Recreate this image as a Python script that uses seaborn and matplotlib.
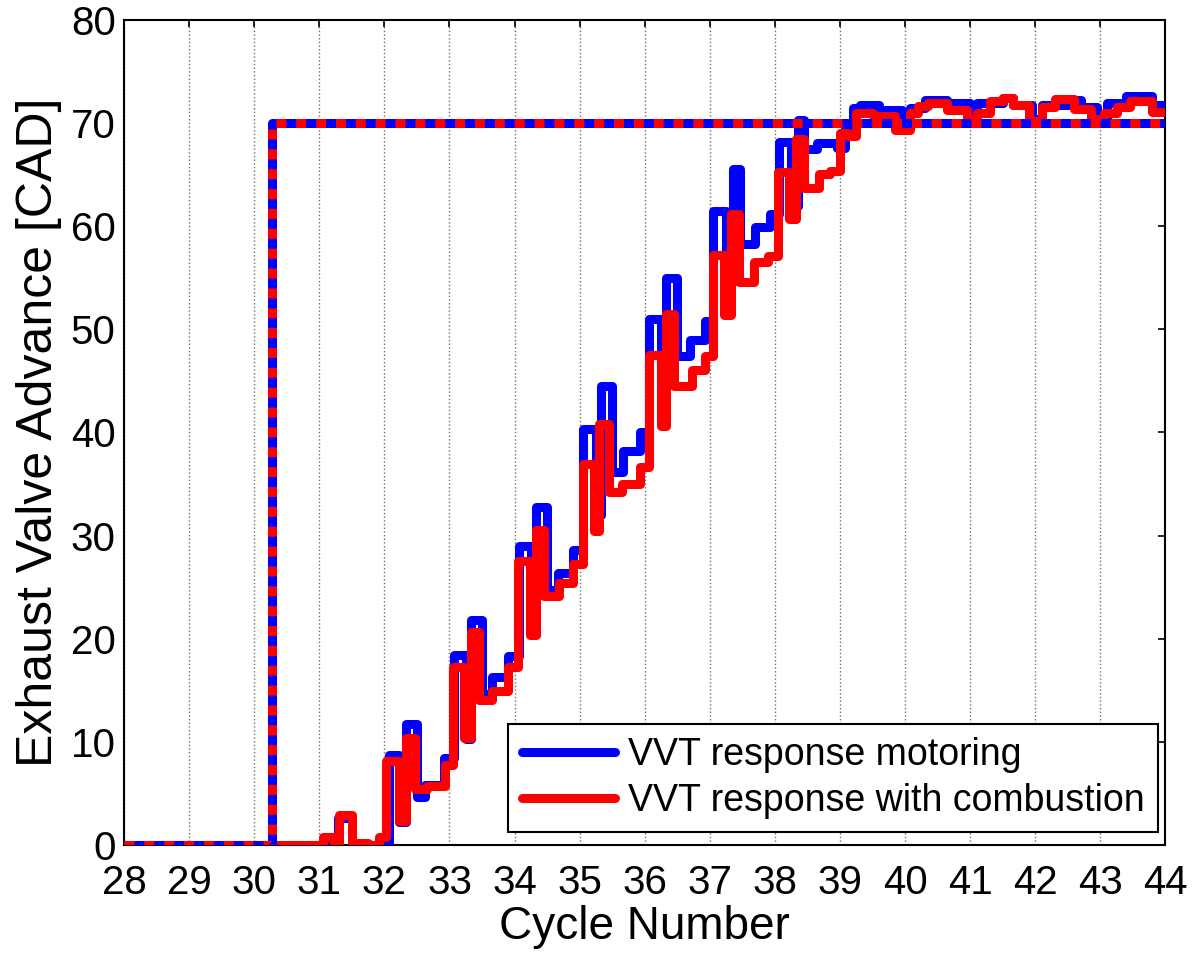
import matplotlib
matplotlib.use("Agg")
import matplotlib.pyplot as plt
import seaborn as sns
import pandas as pd
from matplotlib.lines import Line2D

# Commanded exhaust valve advance (step demand)
cmd_cycle = [28.0, 30.27, 44.0]
cmd_value = [0.0, 70.0, 70.0]

# VVT response, motoring (step breakpoints, held until next point)
mot_cycle = [28.0, 31.28, 31.5, 32.07, 32.22, 32.33, 32.5, 32.62, 32.92,
             33.07, 33.25, 33.33, 33.5, 33.66, 33.9,
             34.07, 34.25, 34.33, 34.5, 34.66, 34.9,
             35.05, 35.25, 35.33, 35.5, 35.66, 35.92,
             36.07, 36.25, 36.33, 36.5, 36.7, 36.92,
             37.05, 37.25, 37.35, 37.47, 37.7, 37.92,
             38.07, 38.25, 38.35, 38.45, 38.65, 38.95,
             39.07, 39.2, 39.3, 39.6, 39.95,
             40.08, 40.3, 40.65, 41.0, 41.1, 41.5, 41.65, 41.95,
             42.1, 42.5, 42.7, 42.95, 43.1, 43.4, 43.8, 44.0]
mot_value = [0.0, 2.6, 0.0, 8.7, 2.2, 11.7, 4.7, 5.8, 8.4,
             18.4, 10.3, 21.8, 14.6, 16.3, 18.3,
             29.0, 20.5, 32.8, 24.7, 26.4, 28.6,
             40.3, 32.0, 44.5, 36.2, 38.2, 40.0,
             51.0, 42.0, 55.0, 47.4, 49.0, 50.8,
             61.5, 54.6, 65.5, 58.3, 59.9, 61.2,
             68.2, 62.0, 70.3, 67.5, 68.1, 67.6,
             69.5, 71.5, 71.8, 71.3, 70.0,
             71.5, 72.2, 71.9, 70.4, 71.9, 72.4, 71.8, 70.4,
             71.8, 72.2, 71.6, 70.3, 71.9, 72.6, 71.8, 71.8]

# VVT response with combustion
cmb_cycle = [28.0, 31.05, 31.23, 31.3, 31.5, 31.75, 31.92, 32.03, 32.22, 32.33, 32.47, 32.65, 32.93,
             33.06, 33.23, 33.33, 33.45, 33.65, 33.9,
             34.06, 34.24, 34.33, 34.45, 34.68, 34.9,
             35.05, 35.22, 35.3, 35.45, 35.65, 35.92,
             36.07, 36.25, 36.33, 36.45, 36.72, 36.93,
             37.05, 37.22, 37.33, 37.45, 37.68, 37.9,
             38.05, 38.22, 38.32, 38.45, 38.68, 38.85,
             39.0, 39.12, 39.25, 39.5, 39.85,
             40.08, 40.2, 40.35, 40.65, 40.95, 41.1, 41.3, 41.5, 41.65, 41.9,
             42.1, 42.3, 42.6, 42.85, 43.05, 43.25, 43.45, 43.8, 44.0]
cmb_value = [0.0, 0.8, 0.0, 2.9, 0.2, 0.0, 0.8, 8.1, 2.3, 10.4, 5.4, 5.7, 7.8,
             17.3, 10.4, 20.7, 14.1, 14.9, 17.3,
             27.5, 20.4, 30.5, 24.1, 25.4, 27.2,
             36.9, 30.4, 40.8, 34.2, 35.0, 36.7,
             47.5, 40.6, 51.5, 44.5, 46.1, 47.4,
             57.2, 51.4, 61.2, 54.6, 56.5, 57.1,
             65.3, 60.7, 68.5, 63.7, 65.1, 65.4,
             69.0, 68.7, 71.0, 70.7, 69.3,
             71.0, 71.7, 71.9, 71.3, 70.4, 71.0, 72.1, 72.4, 71.8, 70.2,
             71.6, 72.3, 71.4, 70.4, 71.0, 71.6, 72.1, 71.1, 71.1]

x_ticks = list(range(28, 45))
y_ticks = list(range(0, 81, 10))

sns.set_style("white")
plt.rcParams["font.family"] = ["Liberation Sans", "DejaVu Sans"]
plt.rcParams["text.color"] = "black"
plt.rcParams["axes.labelcolor"] = "black"
plt.rcParams["xtick.color"] = "black"
plt.rcParams["ytick.color"] = "black"

fig = plt.figure(figsize=(12.04, 9.55), dpi=100)
ax = fig.add_axes([0.103, 0.1152, 0.865, 0.8639])

lw = 6.5
mot_df = pd.DataFrame({"cycle": mot_cycle, "value": mot_value})
cmb_df = pd.DataFrame({"cycle": cmb_cycle, "value": cmb_value})
cmd_df = pd.DataFrame({"cycle": cmd_cycle, "value": cmd_value})

sns.lineplot(data=mot_df, x="cycle", y="value", ax=ax, color="#0000ff",
             linewidth=lw, drawstyle="steps-post", estimator=None, zorder=3)
sns.lineplot(data=cmb_df, x="cycle", y="value", ax=ax, color="#ff0000",
             linewidth=lw, drawstyle="steps-post", estimator=None, zorder=4)
# demand: blue solid underneath a red dashed overlay
sns.lineplot(data=cmd_df, x="cycle", y="value", ax=ax, color="#0000ff",
             linewidth=lw, drawstyle="steps-post", estimator=None, zorder=5)
sns.lineplot(data=cmd_df, x="cycle", y="value", ax=ax, color="#ff0000",
             linewidth=lw, drawstyle="steps-post", estimator=None, zorder=6,
             dashes=False, linestyle=(0, (1.1, 1.1)))
for ln in ax.lines:
    ln.set_solid_capstyle("butt")
    ln.set_dash_capstyle("butt")

ax.set_xlim(28, 44)
ax.set_ylim(0, 80)
ax.set_xticks(x_ticks)
ax.set_yticks(y_ticks)
ax.tick_params(axis="both", direction="in", length=5, width=1.2, labelsize=29,
               top=True, right=True, colors="black")
ax.tick_params(axis="x", pad=14)
ax.tick_params(axis="y", pad=6)
ax.xaxis.grid(True, linestyle=":", color="#707070", linewidth=1.0)
ax.yaxis.grid(False)
for s in ax.spines.values():
    s.set_color("black")
    s.set_linewidth(1.5)

ax.set_xlabel("Cycle Number", fontsize=33, labelpad=2)
ax.set_ylabel("Exhaust Valve Advance [CAD]", fontsize=36, labelpad=6)

handles = [Line2D([], [], color="#0000ff", linewidth=lw),
           Line2D([], [], color="#ff0000", linewidth=lw)]
leg = ax.legend(handles, ["VVT response motoring", "VVT response with combustion"],
                loc="lower right", bbox_to_anchor=(0.993, 0.016), borderaxespad=0,
                fontsize=27, frameon=True, fancybox=False, framealpha=1,
                edgecolor="black", handlelength=2.5, handletextpad=0.35,
                borderpad=0.35, labelspacing=0.25)
leg.get_frame().set_linewidth(1.5)
leg.set_zorder(10)

fig.savefig("out.png", dpi=100)
